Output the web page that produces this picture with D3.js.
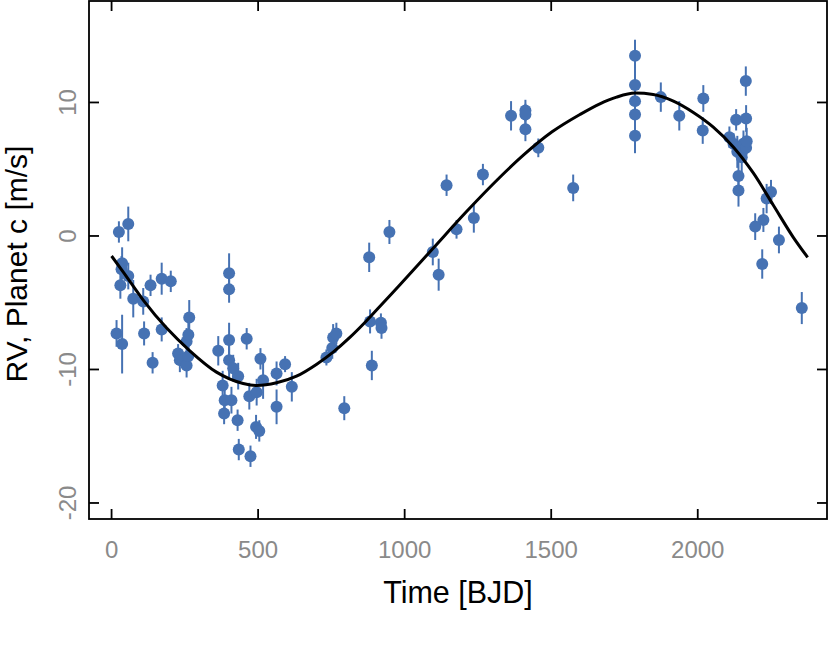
<!DOCTYPE html>
<html><head><meta charset="utf-8">
<script src="https://cdn.jsdelivr.net/npm/d3@7"></script>
<style>body{margin:0;background:#fff}svg{display:block}text{font-family:"Liberation Sans",Arial,sans-serif}</style>
</head><body><svg id="c" width="830" height="650"></svg>
<script>
// Observations: time [BJD offset], RV [m/s], error [m/s]
const time = [17,25,30,34,36,36,57,57,74,108,111,133,140,171,171,202,227,233,256,256,262,262,265,364,379,384,386,401,401,401,401,409,415,432,430,434,461,470,474,493,495,504,508,517,563,563,592,615,733,753,756,767,794,879,882,888,919,921,948,1096,1116,1143,1177,1236,1267,1363,1412,1412,1412,1456,1575,1786,1786,1786,1786,1786,1874,1937,2019,2017,2108,2122,2131,2135,2139,2139,2150,2156,2164,2165,2165,2167,2196,2220,2224,2235,2250,2277,2355];
const rv = [-7.3,0.3,-3.7,-2.5,-2.05,-8.1,0.9,-3.0,-4.7,-4.9,-7.3,-3.7,-9.5,-3.2,-7.0,-3.4,-8.8,-9.3,-7.9,-9.7,-7.4,-9.0,-6.1,-8.6,-11.2,-13.3,-12.3,-2.8,-4.0,-7.8,-9.3,-12.3,-9.9,-10.5,-13.8,-16.0,-7.7,-12.0,-16.5,-14.3,-11.7,-14.6,-9.2,-10.8,-10.3,-12.8,-9.6,-11.3,-9.1,-8.4,-7.6,-7.3,-12.9,-1.6,-6.4,-9.7,-6.5,-6.9,0.3,-1.2,-2.9,3.8,0.5,1.35,4.6,9.0,9.4,9.1,8.0,6.6,3.6,13.5,11.3,10.1,9.1,7.5,10.4,9.0,10.3,7.9,7.4,6.9,8.7,6.3,4.5,3.4,5.9,6.9,11.6,8.8,6.6,7.1,0.7,-2.1,1.2,2.8,3.3,-0.3,-5.4];
const err = [1.0,0.8,1.0,1.0,1.2,2.2,1.3,1.0,1.4,1.0,0.9,0.8,0.8,1.2,0.9,0.8,0.7,0.9,1.0,0.9,1.3,0.9,1.3,1.1,1.1,0.8,1.1,1.5,1.0,1.3,1.3,1.0,1.0,1.0,0.8,0.8,0.8,1.0,0.8,0.9,1.0,0.8,0.8,1.4,0.9,1.3,0.6,1.1,0.6,0.8,1.0,0.8,0.9,1.1,0.9,1.1,0.7,0.8,0.9,1.0,1.2,0.8,0.7,1.1,0.8,1.1,0.8,0.8,0.9,0.7,1.0,1.2,1.3,1.0,1.0,1.3,1.1,1.1,1.0,1.0,0.8,0.8,0.8,1.2,1.2,1.2,1.4,1.0,1.1,1.0,0.8,1.0,1.0,1.1,0.9,1.1,0.9,1.0,1.2];
// Fitted model curve
const modelT = [0,40,108,188,267,358,449,495,563,631,700,756,813,870,927,984,1098,1212,1325,1405,1503,1598,1666,1723,1786,1848,1917,1985,2053,2122,2190,2258,2326,2375];
const modelRV = [-1.5,-2.7,-4.8,-6.9,-8.6,-10.2,-11.05,-11.2,-11.0,-10.5,-9.6,-8.7,-7.6,-6.35,-5.0,-3.65,-0.9,1.85,4.4,6.05,7.8,9.1,9.9,10.4,10.7,10.6,10.1,9.25,8.15,6.65,4.7,2.3,-0.1,-1.6];
const xTicks = [0,500,1000,1500,2000];
const yTicks = [-20,-10,0,10];

const svg = d3.select("#c");
const L=89, R=827, T=1, B=519;
const x = d3.scaleLinear().domain([-77,2441]).range([L,R]);
const y = d3.scaleLinear().domain([-21.2,17.6]).range([B,T]);
const col = "#4672b3";

const pts = time.map((t,i)=>({t, v:rv[i], e:err[i]}));
const g = svg.append("g");
g.selectAll("line.err").data(pts).join("line").attr("class","err")
 .attr("x1",d=>x(d.t)).attr("x2",d=>x(d.t))
 .attr("y1",d=>y(d.v-d.e)).attr("y2",d=>y(d.v+d.e))
 .attr("stroke",col).attr("stroke-width",2);
g.selectAll("circle").data(pts).join("circle")
 .attr("cx",d=>x(d.t)).attr("cy",d=>y(d.v)).attr("r",6).attr("fill",col);

const line = d3.line().x((d,i)=>x(modelT[i])).y(d=>y(d)).curve(d3.curveMonotoneX);
svg.append("path").attr("d",line(modelRV)).attr("fill","none").attr("stroke","#000").attr("stroke-width",3);

// Box & ticks
const tk = 10;
const ax = svg.append("g").attr("stroke","#000").attr("stroke-width",1.8);
ax.append("rect").attr("x",L).attr("y",T).attr("width",R-L).attr("height",B-T).attr("fill","none");
xTicks.forEach(v=>{
  ax.append("line").attr("x1",x(v)).attr("x2",x(v)).attr("y1",B).attr("y2",B-tk);
  ax.append("line").attr("x1",x(v)).attr("x2",x(v)).attr("y1",T).attr("y2",T+tk);
});
yTicks.forEach(v=>{
  ax.append("line").attr("x1",L).attr("x2",L+tk).attr("y1",y(v)).attr("y2",y(v));
  ax.append("line").attr("x1",R).attr("x2",R-tk).attr("y1",y(v)).attr("y2",y(v));
});
svg.selectAll("text.xt").data(xTicks).join("text").attr("class","xt")
 .attr("x",d=>x(d)).attr("y",558).attr("text-anchor","middle")
 .attr("font-size",24).attr("fill","#8a8a8a").text(d=>d);
svg.selectAll("text.yt").data(yTicks).join("text").attr("class","yt")
 .attr("transform",d=>`translate(76,${y(d)}) rotate(-90)`).attr("text-anchor","middle")
 .attr("font-size",24).attr("fill","#8a8a8a").text(d=>d);
svg.append("text").attr("x",458).attr("y",603).attr("text-anchor","middle").attr("font-size",30.5).attr("fill","#000").text("Time [BJD]");
svg.append("text").attr("transform",`translate(27,264) rotate(-90)`).attr("text-anchor","middle").attr("font-size",30).attr("fill","#000").text("RV, Planet c [m/s]");
</script></body></html>
